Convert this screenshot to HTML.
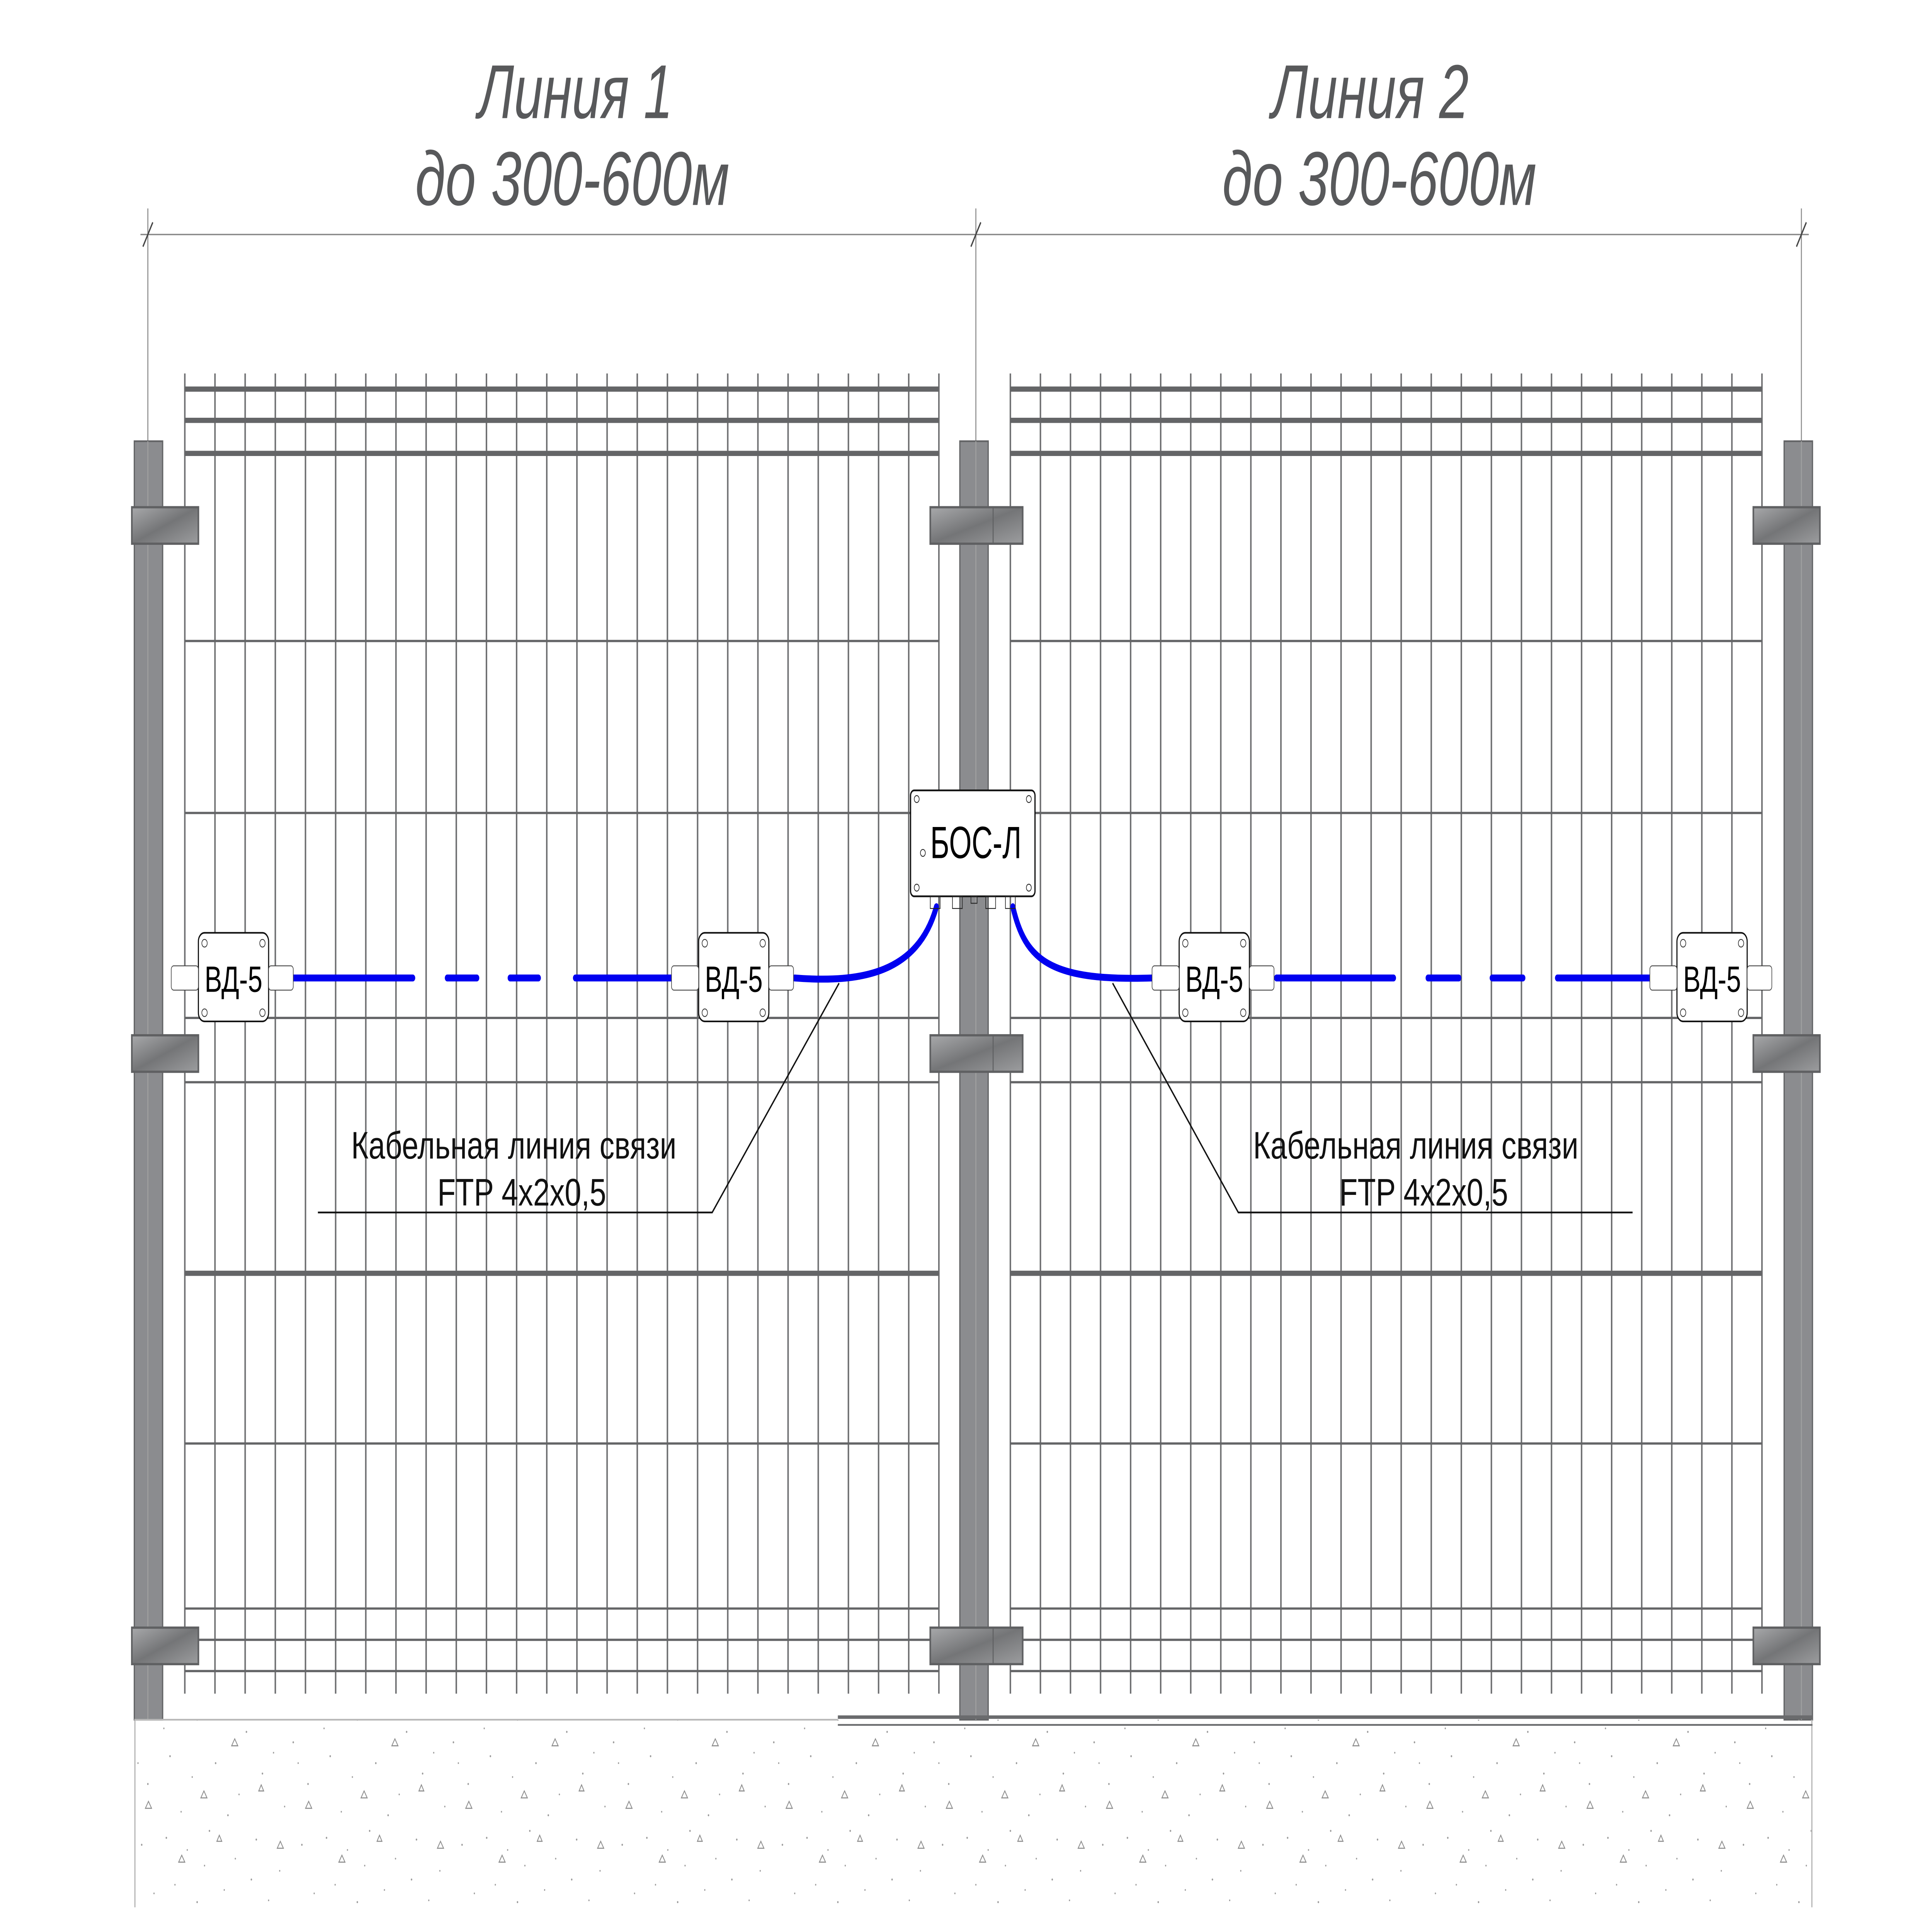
<!DOCTYPE html>
<html><head><meta charset="utf-8">
<style>html,body{margin:0;padding:0;background:#fff;width:100%;height:100%;overflow:hidden}svg{display:block;position:fixed;left:0;top:0;width:100vw;height:100vh}</style>
</head><body>
<svg viewBox="0 0 1568 1103" preserveAspectRatio="none" xmlns="http://www.w3.org/2000/svg" font-family="'Liberation Sans', sans-serif">
<defs>
<pattern id="wl" x="149.4" y="0" width="24.48" height="10" patternUnits="userSpaceOnUse"><rect x="0" y="0" width="1.2" height="10" fill="#6d6e70"/></pattern>
<pattern id="wr" x="819.4" y="0" width="24.4" height="10" patternUnits="userSpaceOnUse"><rect x="0" y="0" width="1.2" height="10" fill="#6d6e70"/></pattern>
<pattern id="sp" x="0" y="0" width="130" height="105" patternUnits="userSpaceOnUse">
<g fill="#9a9a9a">
<circle cx="5" cy="8" r="0.6"/><circle cx="22" cy="15" r="0.5"/><circle cx="40" cy="4" r="0.6"/><circle cx="61" cy="20" r="0.5"/><circle cx="78" cy="9" r="0.6"/><circle cx="97" cy="27" r="0.5"/><circle cx="115" cy="12" r="0.6"/><circle cx="12" cy="35" r="0.5"/><circle cx="30" cy="45" r="0.6"/><circle cx="52" cy="38" r="0.5"/><circle cx="70" cy="52" r="0.6"/><circle cx="88" cy="44" r="0.5"/><circle cx="108" cy="58" r="0.6"/><circle cx="125" cy="40" r="0.5"/><circle cx="8" cy="66" r="0.6"/><circle cx="26" cy="78" r="0.5"/><circle cx="45" cy="70" r="0.6"/><circle cx="64" cy="88" r="0.5"/><circle cx="83" cy="76" r="0.6"/><circle cx="101" cy="95" r="0.5"/><circle cx="120" cy="82" r="0.6"/><circle cx="17" cy="98" r="0.5"/><circle cx="55" cy="100" r="0.6"/><circle cx="92" cy="64" r="0.5"/><circle cx="36" cy="24" r="0.5"/><circle cx="74" cy="32" r="0.6"/><circle cx="112" cy="70" r="0.5"/><circle cx="3" cy="50" r="0.5"/>
</g>
<g fill="none" stroke="#8a8a8a" stroke-width="0.6">
<path d="M15 22 l2.5 -4 l2.5 4 z"/><path d="M58 60 l2.5 -4 l2.5 4 z"/><path d="M95 14 l2.5 -4 l2.5 4 z"/><path d="M33 90 l2.5 -4 l2.5 4 z"/><path d="M118 96 l2.5 -4 l2.5 4 z"/><path d="M80 86 l2 -3.5 l2 3.5 z"/><path d="M46 10 l2 -3.5 l2 3.5 z"/>
</g>
</pattern>
<linearGradient id="cg" x1="0" y1="0" x2="1" y2="1"><stop offset="0" stop-color="#a8a9ab"/><stop offset="0.5" stop-color="#747577"/><stop offset="1" stop-color="#9c9d9f"/></linearGradient>
</defs>

<g fill="#58595b" font-size="44" font-style="italic">
<text x="388" y="68" textLength="158" lengthAdjust="spacingAndGlyphs">Линия 1</text>
<text x="337" y="118" textLength="255" lengthAdjust="spacingAndGlyphs">до 300-600м</text>
<text x="1032" y="68" textLength="160" lengthAdjust="spacingAndGlyphs">Линия 2</text>
<text x="992" y="118" textLength="255" lengthAdjust="spacingAndGlyphs">до 300-600м</text>
</g>

<g stroke="#8a8a8a" stroke-width="0.8" fill="none">
<line x1="114" y1="135" x2="1468" y2="135"/>
<line x1="120" y1="120" x2="120" y2="990"/>
<line x1="792" y1="120" x2="792" y2="990"/>
<line x1="1462" y1="120" x2="1462" y2="990"/>
</g>
<g stroke="#444" stroke-width="1">
<line x1="116" y1="142" x2="124" y2="128"/><line x1="788" y1="142" x2="796" y2="128"/><line x1="1458" y1="142" x2="1466" y2="128"/>
</g>

<rect x="149" y="215" width="615" height="760" fill="url(#wl)"/>
<rect x="819" y="215" width="613" height="760" fill="url(#wr)"/>
<g stroke="#646567">
<g stroke-width="3"><line x1="150" y1="224" x2="762" y2="224"/><line x1="150" y1="242" x2="762" y2="242"/><line x1="150" y1="261" x2="762" y2="261"/>
<line x1="820" y1="224" x2="1430" y2="224"/><line x1="820" y1="242" x2="1430" y2="242"/><line x1="820" y1="261" x2="1430" y2="261"/>
<line x1="150" y1="733" x2="762" y2="733"/><line x1="820" y1="733" x2="1430" y2="733"/></g>
<g stroke-width="1.3">
<line x1="150" y1="369" x2="762" y2="369"/><line x1="820" y1="369" x2="1430" y2="369"/>
<line x1="150" y1="468" x2="762" y2="468"/><line x1="820" y1="468" x2="1430" y2="468"/>
<line x1="150" y1="586" x2="762" y2="586"/><line x1="820" y1="586" x2="1430" y2="586"/>
<line x1="150" y1="623" x2="762" y2="623"/><line x1="820" y1="623" x2="1430" y2="623"/>
<line x1="150" y1="831" x2="762" y2="831"/><line x1="820" y1="831" x2="1430" y2="831"/>
<line x1="150" y1="926" x2="762" y2="926"/><line x1="820" y1="926" x2="1430" y2="926"/>
<line x1="150" y1="944" x2="762" y2="944"/><line x1="820" y1="944" x2="1430" y2="944"/>
<line x1="150" y1="962" x2="762" y2="962"/><line x1="820" y1="962" x2="1430" y2="962"/>
</g></g>

<g fill="#8b8c8f" stroke="#636466" stroke-width="1">
<rect x="109" y="254" width="23" height="736"/>
<rect x="779" y="254" width="23" height="736"/>
<rect x="1448" y="254" width="23" height="736"/>
</g>
<g stroke="#a0a0a0" stroke-width="0.8"><line x1="120" y1="254" x2="120" y2="990"/><line x1="792" y1="254" x2="792" y2="990"/><line x1="1462" y1="254" x2="1462" y2="990"/></g>

<g fill="url(#cg)" stroke="#5f6062" stroke-width="1.3">
<rect x="107" y="292" width="54" height="21"/><rect x="107" y="596" width="54" height="21"/><rect x="107" y="937" width="54" height="21"/>
<rect x="755" y="292" width="75" height="21"/><rect x="755" y="596" width="75" height="21"/><rect x="755" y="937" width="75" height="21"/>
<rect x="1423" y="292" width="54" height="21"/><rect x="1423" y="596" width="54" height="21"/><rect x="1423" y="937" width="54" height="21"/>
</g>
<g stroke="#5f6062" stroke-width="0.8"><line x1="806" y1="292" x2="806" y2="313"/><line x1="806" y1="596" x2="806" y2="617"/><line x1="806" y1="937" x2="806" y2="958"/></g>

<rect x="109" y="990" width="1362" height="108" fill="url(#sp)"/>
<g stroke="#b8b8b8" stroke-width="1"><line x1="109" y1="990" x2="680" y2="990"/><line x1="109.5" y1="990" x2="109.5" y2="1098"/><line x1="1470.5" y1="990" x2="1470.5" y2="1098"/></g>
<g stroke="#6a6b6d"><line x1="680" y1="988.5" x2="1471" y2="988.5" stroke-width="2"/><line x1="680" y1="993" x2="1471" y2="993" stroke-width="1"/></g>

<g stroke="#0000f0" stroke-width="4" fill="none" stroke-linecap="round">
<line x1="237" y1="563" x2="335" y2="563"/><line x1="363" y1="563" x2="387" y2="563"/><line x1="414" y1="563" x2="437" y2="563"/><line x1="467" y1="563" x2="546" y2="563"/>
<line x1="1036" y1="563" x2="1131" y2="563"/><line x1="1159" y1="563" x2="1184" y2="563"/><line x1="1211" y1="563" x2="1236" y2="563"/><line x1="1264" y1="563" x2="1340" y2="563"/>
<path d="M645 563 C700 566 745 560 760 522"/>
<path d="M822 522 C832 552 850 565 935 563"/>
</g>

<rect x="739" y="455" width="101" height="61" rx="3" fill="#fff" stroke="#111" stroke-width="1"/>
<g fill="none" stroke="#222" stroke-width="0.5">
<circle cx="744" cy="460" r="2"/><circle cx="835" cy="460" r="2"/><circle cx="744" cy="511" r="2"/><circle cx="835" cy="511" r="2"/><circle cx="749" cy="491" r="2"/>
<rect x="755" y="516" width="8" height="7"/><rect x="773" y="516" width="8" height="7"/><rect x="788" y="516" width="5" height="4"/><rect x="800" y="516" width="8" height="7"/><rect x="816" y="516" width="8" height="7"/>
</g>
<text x="755" y="494" font-size="26" fill="#000" textLength="74" lengthAdjust="spacingAndGlyphs">БОС-Л</text>

<g fill="#fff" stroke="#111" stroke-width="0.9">
<rect x="161" y="537" width="57" height="51" rx="5"/>
<rect x="567" y="537" width="57" height="51" rx="5"/>
<rect x="957" y="537" width="57" height="51" rx="5"/>
<rect x="1361" y="537" width="57" height="51" rx="5"/>
</g>
<g fill="#fff" stroke="#444" stroke-width="0.5">
<rect x="139" y="556" width="22" height="14" rx="2"/><rect x="218" y="556" width="20" height="14" rx="2"/>
<rect x="545" y="556" width="22" height="14" rx="2"/><rect x="624" y="556" width="20" height="14" rx="2"/>
<rect x="935" y="556" width="22" height="14" rx="2"/><rect x="1014" y="556" width="20" height="14" rx="2"/>
<rect x="1339" y="556" width="22" height="14" rx="2"/><rect x="1418" y="556" width="20" height="14" rx="2"/>
</g>
<g fill="none" stroke="#333" stroke-width="0.5">
<circle cx="166" cy="543" r="2.2"/><circle cx="213" cy="543" r="2.2"/><circle cx="166" cy="583" r="2.2"/><circle cx="213" cy="583" r="2.2"/>
<circle cx="572" cy="543" r="2.2"/><circle cx="619" cy="543" r="2.2"/><circle cx="572" cy="583" r="2.2"/><circle cx="619" cy="583" r="2.2"/>
<circle cx="962" cy="543" r="2.2"/><circle cx="1009" cy="543" r="2.2"/><circle cx="962" cy="583" r="2.2"/><circle cx="1009" cy="583" r="2.2"/>
<circle cx="1366" cy="543" r="2.2"/><circle cx="1413" cy="543" r="2.2"/><circle cx="1366" cy="583" r="2.2"/><circle cx="1413" cy="583" r="2.2"/>
</g>
<g font-size="21" fill="#000">
<text x="166" y="571" textLength="47" lengthAdjust="spacingAndGlyphs">ВД-5</text>
<text x="572" y="571" textLength="47" lengthAdjust="spacingAndGlyphs">ВД-5</text>
<text x="962" y="571" textLength="47" lengthAdjust="spacingAndGlyphs">ВД-5</text>
<text x="1366" y="571" textLength="47" lengthAdjust="spacingAndGlyphs">ВД-5</text>
</g>

<g stroke="#111" stroke-width="1" fill="none">
<polyline points="681,566 578,698 258,698"/>
<polyline points="903,566 1005,698 1325,698"/>
</g>
<g font-size="22" fill="#111">
<text x="285" y="667" textLength="264" lengthAdjust="spacingAndGlyphs">Кабельная линия связи</text>
<text x="355" y="694" textLength="137" lengthAdjust="spacingAndGlyphs">FTP 4x2x0,5</text>
<text x="1017" y="667" textLength="264" lengthAdjust="spacingAndGlyphs">Кабельная линия связи</text>
<text x="1087" y="694" textLength="137" lengthAdjust="spacingAndGlyphs">FTP 4x2x0,5</text>
</g>
</svg>
</body></html>
